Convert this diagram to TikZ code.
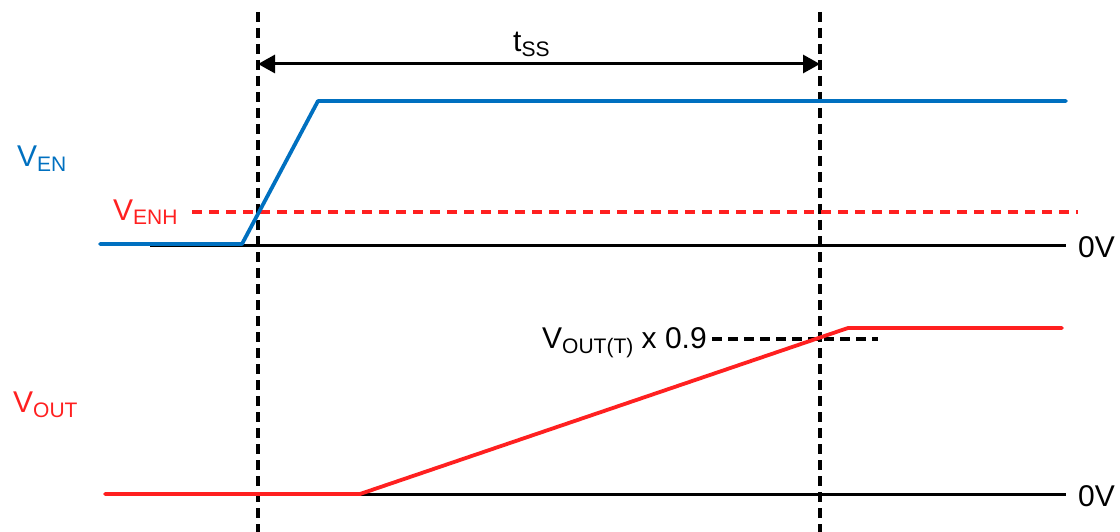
\documentclass[tikz,border=0pt]{standalone}
\usepackage{fontspec}
\setmainfont{Liberation Sans}
\usetikzlibrary{arrows.meta, positioning}

\definecolor{enblue}{RGB}{0,112,192}
\definecolor{outred}{RGB}{255,32,32}

% V with a lowered, smaller subscript
\newcommand{\vsub}[1]{V\raisebox{-5pt}{\fontsize{21}{21}\selectfont #1}}

\tikzset{
    lbl/.style={inner sep=0pt, anchor=base west, font=\fontsize{30}{36}\selectfont},
    ground/.style={line width=3pt, black},
    marker/.style={line width=3.4pt, black, dash pattern=on 10pt off 6pt},
    enline/.style={line width=3.8pt, enblue, line join=round},
    outline/.style={line width=3.8pt, outred, line join=round},
}

\begin{document}
\begin{tikzpicture}[x=1pt, y=-1pt]
        \useasboundingbox (0,0) rectangle (1120,532);

        % time markers
        \coordinate (m1top) at (258, 12);
        \coordinate (m1bot) at (258, 532);
        \coordinate (m2top) at (820, 12);
        \coordinate (m2bot) at (820, 532);
        \draw[marker] (m1top) -- (m1bot);
        \draw[marker] (m2top) -- (m2bot);

        % soft-start time
        \coordinate (tssl) at (258, 64);
        \coordinate (tssr) at (820, 64);
        \draw[line width=3pt, {Triangle[length=17pt, width=18pt]}-{Triangle[length=17pt, width=18pt]}]
            (tssl) -- (tssr);
        \node[lbl] (tss) at (513, 52) {t\raisebox{-5pt}{\fontsize{21}{21}\selectfont SS}};

        % enable signal
        \coordinate (gnd1l) at (150, 245);
        \coordinate (gnd1r) at (1066, 245);
        \draw[ground] (gnd1l) -- (gnd1r);
        \node[lbl] (zero1) at (1078, 257) {0V};

        \coordinate (enhl) at (192, 212);
        \coordinate (enhr) at (1078, 212);
        \draw[line width=3.2pt, outred, dash pattern=on 10pt off 7pt] (enhl) -- (enhr);
        \node[lbl, text=outred] (venh) at (113, 220) {\vsub{ENH}};

        \coordinate (en0) at (100, 244);
        \coordinate (en1) at (242, 244);
        \coordinate (en2) at (318, 101);
        \coordinate (en3) at (1066, 101);
        \draw[enline, line cap=round] (en0) -- (en1) -- (en2) -- (en3);
        \node[lbl, text=enblue] (ven) at (17, 167) {\vsub{EN}};

        % output signal
        \coordinate (gnd2l) at (150, 494);
        \coordinate (gnd2r) at (1066, 494);
        \draw[ground] (gnd2l) -- (gnd2r);
        \node[lbl] (zero2) at (1078, 506) {0V};

        \coordinate (thl) at (712, 339);
        \coordinate (thr) at (878, 339);
        \draw[marker] (thl) -- (thr);
        \node[lbl] (vth) at (542, 348) {\vsub{OUT(T)} x 0.9};

        \coordinate (out0) at (105, 494);
        \coordinate (out1) at (360, 494);
        \coordinate (out2) at (848, 328);
        \coordinate (out3) at (1062, 328);
        \draw[outline, line cap=round] (out0) -- (out1) -- (out2) -- (out3);
        \node[lbl, text=outred] (vout) at (13, 412) {\vsub{OUT}};
\end{tikzpicture}
\end{document}
